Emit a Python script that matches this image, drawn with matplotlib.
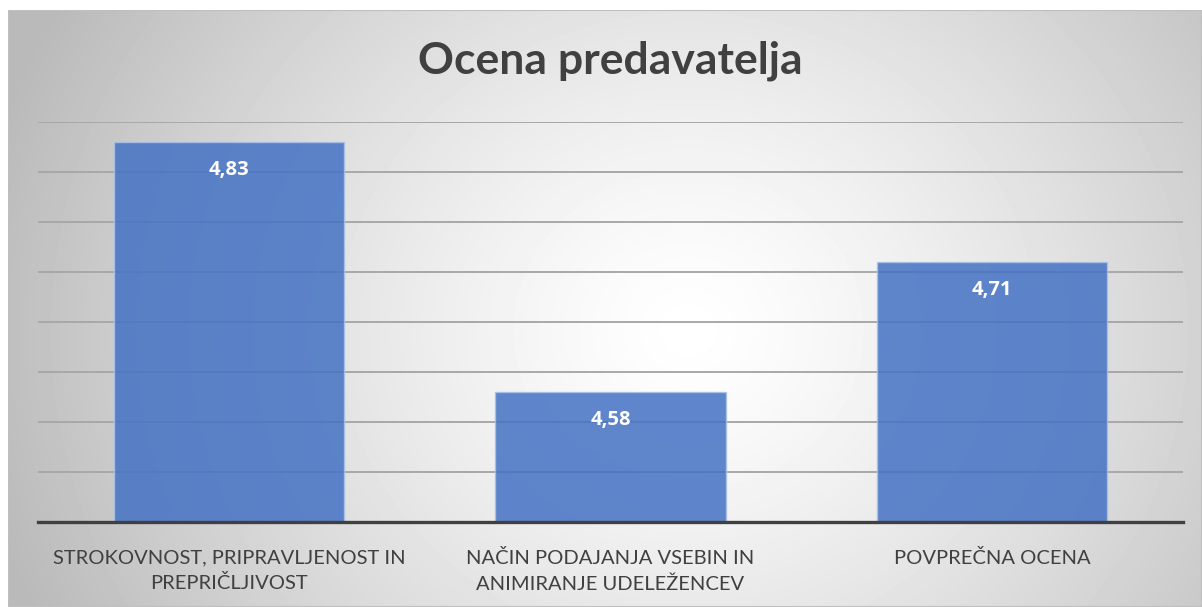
import numpy as np
import matplotlib.pyplot as plt
from matplotlib.patches import Rectangle

plt.rcParams['font.family'] = ['Lato', 'DejaVu Sans']

# data
categories = ['STROKOVNOST, PRIPRAVLJENOST IN\nPREPRIČLJIVOST',
              'NAČIN PODAJANJA VSEBIN IN\nANIMIRANJE UDELEŽENCEV',
              'POVPREČNA OCENA']
values = [4.83, 4.58, 4.71]
value_labels = ['4,83', '4,58', '4,71']
title = 'Ocena predavatelja'

W, H = 1202, 607
fig = plt.figure(figsize=(W / 100, H / 100), dpi=100)
fig.patch.set_facecolor('white')

# chart area with radial gradient background
bg_left, bg_top = 8, 10
bg = fig.add_axes([bg_left / W, 0, 1 - bg_left / W, 1 - bg_top / H])
bg.set_axis_off()
yy, xx = np.mgrid[0:H - bg_top, 0:W - bg_left]
r = np.hypot(xx - 680, (yy - 320) * 1.1)
v = 1 - 0.27 * np.clip(r / 720, 0, 1) ** 1.3
bg.imshow(v, cmap='gray', vmin=0, vmax=1, aspect='auto', interpolation='bilinear')
bg.add_patch(Rectangle((0, 0), 1, 1, transform=bg.transAxes, fill=False,
                       edgecolor='#bfbfbf', lw=1.5))

# plot area
left, right = 38, 1183
top, bottom = 122, 522
ax = fig.add_axes([left / W, 1 - bottom / H, (right - left) / W, (bottom - top) / H])
ax.patch.set_alpha(0)

x = np.arange(len(categories))
ax.set_xlim(-0.5, len(categories) - 0.5)
ax.set_ylim(4.45, 4.85)
ax.set_yticks(np.arange(4.45, 4.851, 0.05))
ax.yaxis.grid(True, color='#a8a8a8', lw=1.4, zorder=0)
ax.set_axisbelow(True)

bars = ax.bar(x, [v_ - 4.45 for v_ in values], bottom=4.45, width=0.603,
              color='#4472c4', alpha=0.85, edgecolor='#a9c1ea', linewidth=1.0, zorder=2)

for xi, val, lab in zip(x, values, value_labels):
    ax.annotate(lab, (xi, val), xytext=(0, -20.5), textcoords='offset points',
                ha='center', va='center', color='white', fontsize=14.5, fontweight='bold',
                family=['Open Sans', 'DejaVu Sans'], zorder=3)

for s in ['top', 'right', 'left']:
    ax.spines[s].set_visible(False)
ax.spines['bottom'].set_color('#404040')
ax.spines['bottom'].set_linewidth(2.4)
ax.tick_params(axis='y', left=False, labelleft=False)
ax.tick_params(axis='x', bottom=False, pad=16, labelsize=14.5, labelcolor='#404040')
ax.set_xticks(x)
ax.set_xticklabels(categories, linespacing=1.55)

fig.text(0.5075, 1 - 61 / H, title, ha='center', va='center', fontsize=32,
         fontweight='bold', color='#404040')

fig.savefig('out.png', dpi=100)
